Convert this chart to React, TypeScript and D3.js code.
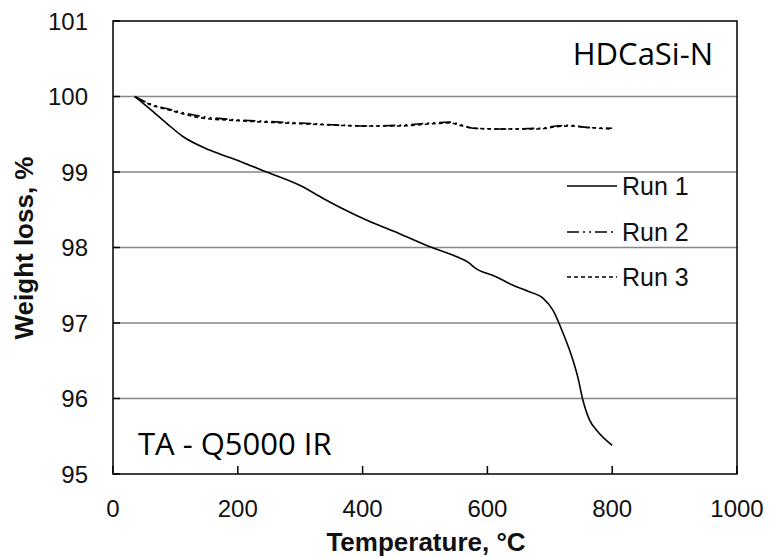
import React from "react";
import * as d3 from "d3";

const xTicks = [0, 200, 400, 600, 800, 1000];
const yTicks = [95, 96, 97, 98, 99, 100, 101];

const run1T = [35, 60, 86, 112, 155, 204, 246, 300, 337, 369, 407, 460, 508, 550, 570, 580, 612, 641, 665, 689, 705, 721, 737, 745, 753, 764, 775, 800];
const run1W = [100, 99.83, 99.645, 99.47, 99.29, 99.14, 99.0, 98.82, 98.65, 98.51, 98.36, 98.18, 98.01, 97.88, 97.8, 97.73, 97.62, 97.5, 97.42, 97.33, 97.17, 96.87, 96.51, 96.28, 95.98, 95.71, 95.58, 95.38];

const run2T = [35, 60, 86, 139, 200, 246, 300, 407, 460, 513, 540, 560, 577, 620, 684, 711, 730, 760, 800];
const run2W = [100, 99.9, 99.84, 99.74, 99.69, 99.67, 99.65, 99.61, 99.62, 99.65, 99.66, 99.62, 99.58, 99.57, 99.58, 99.61, 99.62, 99.59, 99.58];

const run3T = [35, 60, 86, 139, 200, 246, 300, 407, 460, 513, 540, 560, 577, 620, 684, 711, 730, 760, 800];
const run3W = [100, 99.89, 99.83, 99.72, 99.68, 99.66, 99.64, 99.61, 99.61, 99.64, 99.65, 99.61, 99.58, 99.57, 99.57, 99.6, 99.61, 99.59, 99.57];

const seriesNames = ["Run 1", "Run 2", "Run 3"];
const dashes = ["none", "12 4 2 4 2 4", "4 3"];

export default function App() {
  const left = 113, right = 737, top = 21, bottom = 474;
  const x = d3.scaleLinear().domain([0, 1000]).range([left, right]);
  const y = d3.scaleLinear().domain([95, 101]).range([bottom, top]);
  const line = d3
    .line<[number, number]>()
    .x((d) => x(d[0]))
    .y((d) => y(d[1]))
    .curve(d3.curveMonotoneX);
  const series = [
    run1T.map((t, i) => [t, run1W[i]] as [number, number]),
    run2T.map((t, i) => [t, run2W[i]] as [number, number]),
    run3T.map((t, i) => [t, run3W[i]] as [number, number]),
  ];
  const font = "'Liberation Sans', Arial, sans-serif";
  const legY = [186, 232, 277];
  return (
    <svg width={769} height={558} style={{ position: "absolute", left: 0, top: 0, background: "#fff" }}>
      <rect x={0} y={0} width={769} height={558} fill="#fff" />
      {yTicks.filter((v) => v > 95 && v < 101).map((v) => (
        <line key={"g" + v} x1={left} x2={right} y1={y(v)} y2={y(v)} stroke="#888" strokeWidth={1.5} />
      ))}
      {yTicks.map((v) => (
        <line key={"yt" + v} x1={left} x2={left + 7} y1={y(v)} y2={y(v)} stroke="#000" strokeWidth={1.5} />
      ))}
      {xTicks.map((v) => (
        <line key={"xt" + v} x1={x(v)} x2={x(v)} y1={bottom} y2={bottom - 8} stroke="#000" strokeWidth={1.5} />
      ))}
      <rect x={left} y={top} width={right - left} height={bottom - top} fill="none" stroke="#000" strokeWidth={1.5} />
      {yTicks.map((v) => (
        <text key={"yl" + v} x={88} y={y(v) + 8.5} textAnchor="end" fontFamily={font} fontSize={24} fill="#111">
          {v}
        </text>
      ))}
      {xTicks.map((v) => (
        <text key={"xl" + v} x={x(v)} y={517} textAnchor="middle" fontFamily={font} fontSize={24} fill="#111">
          {v}
        </text>
      ))}
      <text x={426} y={551} textAnchor="middle" fontFamily={font} fontSize={26} fontWeight="bold" fill="#111">
        Temperature, °C
      </text>
      <text
        transform={`translate(33,248) rotate(-90)`}
        textAnchor="middle"
        fontFamily={font}
        fontSize={26}
        fontWeight="bold"
        fill="#111"
      >
        Weight loss, %
      </text>
      {series.map((s, i) => (
        <path key={"s" + i} d={line(s) || ""} fill="none" stroke="#000" strokeWidth={1.6} strokeDasharray={dashes[i]} />
      ))}
      {seriesNames.map((n, i) => (
        <g key={"lg" + i}>
          <line x1={567} x2={617} y1={legY[i]} y2={legY[i]} stroke="#000" strokeWidth={1.6} strokeDasharray={dashes[i]} />
          <text x={622} y={legY[i] + 9} fontFamily={font} fontSize={25} fill="#111">
            {n}
          </text>
        </g>
      ))}
      <text x={713} y={65} textAnchor="end" fontFamily="'Open Sans', sans-serif" fontSize={31} fill="#000">
        HDCaSi-N
      </text>
      <text x={138} y={455} fontFamily="'Open Sans', sans-serif" fontSize={31} fill="#000">
        TA - Q5000 IR
      </text>
    </svg>
  );
}
